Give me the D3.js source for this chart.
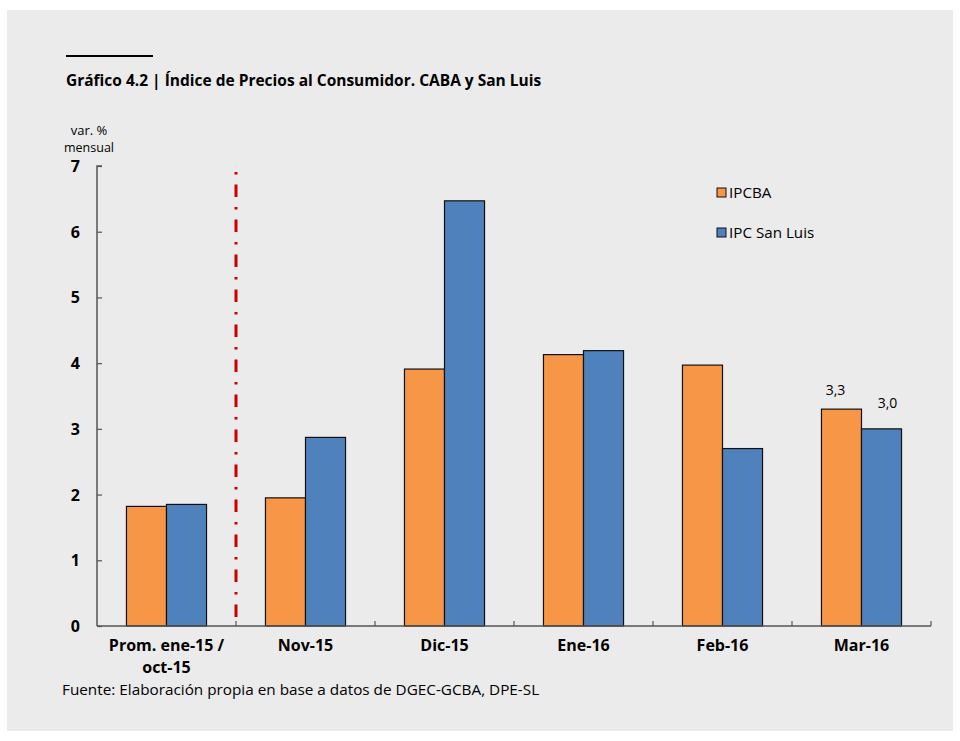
<!DOCTYPE html>
<html><head><meta charset="utf-8">
<script src="https://cdn.jsdelivr.net/npm/d3@7/dist/d3.min.js"></script>
<style>body{margin:0;background:#fff}svg{display:block}text{font-family:"Open Sans",Lato,sans-serif;fill:#000}</style>
</head><body><svg id="c" width="960" height="741"></svg>
<script>
const categories = ["Prom. ene-15 / oct-15","Nov-15","Dic-15","Ene-16","Feb-16","Mar-16"];
const categoryLines = [["Prom. ene-15 /","oct-15"],["Nov-15"],["Dic-15"],["Ene-16"],["Feb-16"],["Mar-16"]];
const seriesNames = ["IPCBA","IPC San Luis"];
const ipcba = [1.82, 1.95, 3.91, 4.13, 3.97, 3.3];
const ipcSanLuis = [1.85, 2.87, 6.47, 4.19, 2.70, 3.0];
const yTicks = [0,1,2,3,4,5,6,7];
const barLabels = [{cat:"Mar-16", s:0, text:"3,3"},{cat:"Mar-16", s:1, text:"3,0"}];

const colors = ["#F79646","#4F81BD"];
const svg = d3.select("#c");
svg.append("rect").attr("x",7).attr("y",10).attr("width",946).attr("height",721).attr("fill","#ebebeb");

// title
svg.append("line").attr("x1",66).attr("x2",153).attr("y1",56).attr("y2",56).attr("stroke","#000").attr("stroke-width",2);
svg.append("text").attr("x",66).attr("y",86).attr("font-size",15.5).attr("font-weight","bold")
  .text("Gráfico 4.2 | Índice de Precios al Consumidor. CABA y San Luis");

const x0 = d3.scaleBand().domain(categories).range([97,931]).paddingInner(0.424).paddingOuter(0.212);
const x1 = d3.scaleBand().domain([0,1]).range([0,x0.bandwidth()]);
const y = d3.scaleLinear().domain([0,7]).range([626,166]);

// y axis label
svg.append("text").attr("x",89).attr("y",135).attr("text-anchor","middle").attr("font-size",13).text("var. %");
svg.append("text").attr("x",89).attr("y",152).attr("text-anchor","middle").attr("font-size",12.5).text("mensual");

// y axis
const yAxis = svg.append("g").attr("transform","translate(97,0)")
  .call(d3.axisRight(y).tickValues(yTicks).tickSize(5).tickFormat(""));
yAxis.select(".domain").attr("stroke","#555").attr("stroke-width",1.5).attr("d","M5,166H0V626");
yAxis.selectAll(".tick line").attr("stroke","#555").attr("stroke-width",1.2);
svg.selectAll(".ylab").data(yTicks).join("text").attr("class","ylab")
  .attr("x",80).attr("y",d=>y(d)+6).attr("text-anchor","end").attr("font-size",16).attr("font-weight","bold").text(d=>d);

// bars
const data = categories.map((c,i)=>({cat:c, vals:[ipcba[i], ipcSanLuis[i]]}));
const g = svg.selectAll(".grp").data(data).join("g").attr("transform",d=>`translate(${x0(d.cat)},0)`);
g.selectAll("rect").data(d=>d.vals.map((v,s)=>({v,s}))).join("rect")
  .attr("x",d=>x1(d.s)).attr("width",x1.bandwidth()).attr("y",d=>y(d.v)).attr("height",d=>y(0)-y(d.v))
  .attr("fill",d=>colors[d.s]).attr("stroke","#111").attr("stroke-width",1.2);

// x axis
const step = x0.step();
const boundaries = d3.range(categories.length+1).map(i=>97+i*step);
svg.append("line").attr("x1",97).attr("x2",931).attr("y1",626).attr("y2",626).attr("stroke","#555").attr("stroke-width",1.5);
svg.selectAll(".xt").data(boundaries.slice(1)).join("line").attr("class","xt")
  .attr("x1",d=>d).attr("x2",d=>d).attr("y1",626).attr("y2",621).attr("stroke","#555").attr("stroke-width",1.2);

// x labels
categories.forEach((c,i)=>{
  const cx = x0(c)+x0.bandwidth()/2;
  categoryLines[i].forEach((ln,j)=>{
    svg.append("text").attr("x",cx).attr("y",651+j*22).attr("text-anchor","middle")
      .attr("font-size",16).attr("font-weight","bold").text(ln);
  });
});

// red dash-dot divider
const divX = x0(categories[1]) - step*x0.paddingInner()/2;
svg.append("line").attr("x1",divX).attr("x2",divX).attr("y1",172).attr("y2",626)
  .attr("stroke","#cc0000").attr("stroke-width",3).attr("stroke-dasharray","2.5,10,12.5,10");

// bar labels
barLabels.forEach(b=>{
  const i = categories.indexOf(b.cat);
  const v = [ipcba,ipcSanLuis][b.s][i];
  svg.append("text").attr("x",x0(b.cat)+x1(b.s)+x1.bandwidth()/2 + (b.s?6:-6))
    .attr("y",y(v)-(b.s?21:14)).attr("text-anchor","middle").attr("font-size",14).text(b.text);
});

// legend
seriesNames.forEach((n,i)=>{
  svg.append("rect").attr("x",717).attr("y",188+i*40).attr("width",9).attr("height",9)
    .attr("fill",colors[i]).attr("stroke","#111").attr("stroke-width",1);
  svg.append("text").attr("x",729).attr("y",198+i*40).attr("font-size",15.2).text(n);
});

// footnote
svg.append("text").attr("x",62).attr("y",695).attr("font-size",15.3)
  .text("Fuente: Elaboración propia en base a datos de DGEC-GCBA, DPE-SL");
</script></body></html>
